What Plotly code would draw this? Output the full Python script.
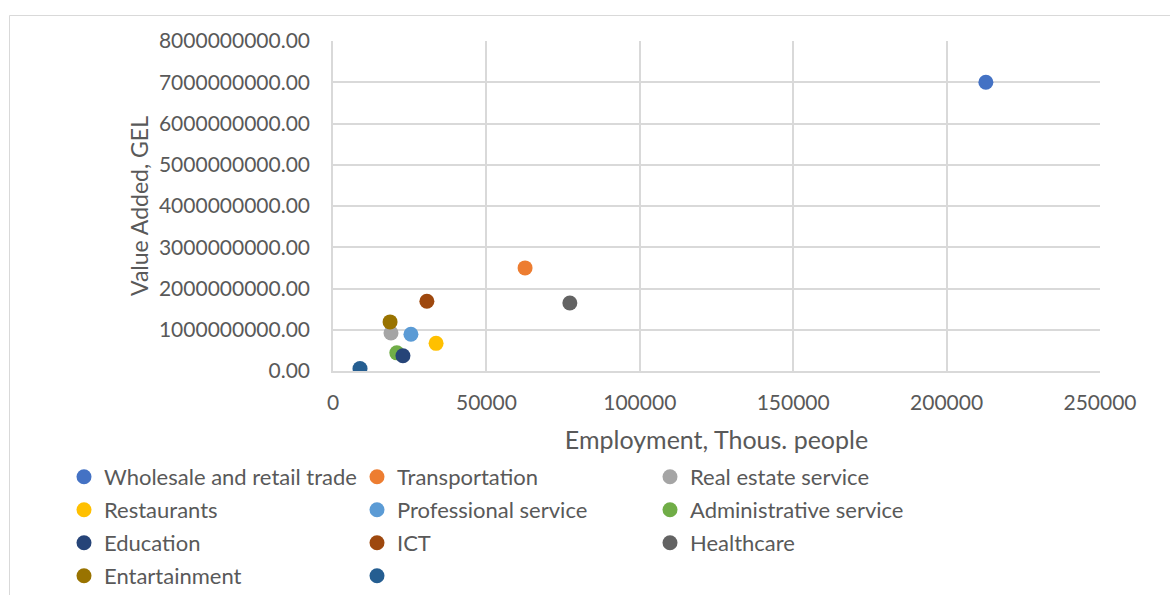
import plotly.graph_objects as go

names = ["Wholesale and retail trade", "Transportation", "Real estate service",
         "Restaurants", "Professional service", "Administrative service",
         "Education", "ICT", "Healthcare", "Entartainment", " "]
employment = [212800, 62600, 18900, 33600, 25400, 20800, 22800, 30600, 77200, 18600, 8800]
value_added = [7.0e9, 2.50e9, 0.92e9, 0.67e9, 0.89e9, 0.44e9, 0.37e9, 1.69e9, 1.65e9, 1.19e9, 0.06e9]
colors = ["#4472C4", "#ED7D31", "#A5A5A5", "#FFC000", "#5B9BD5", "#70AD47",
          "#264478", "#9E480E", "#636363", "#997300", "#255E91"]

x_ticks = [0, 50000, 100000, 150000, 200000, 250000]
y_ticks = [i * 1e9 for i in range(9)]

FONT = "Lato"
TXT = "#595959"
GRID = "#D9D9D9"

W, H = 1170, 595
ml, mr, mt, mb = 333, 70, 41, 224
pw, ph = W - ml - mr, H - mt - mb

def px_x(p):
    return (p - ml) / pw

def px_y(p):
    return (H - mb - p) / ph

fig = go.Figure()
legend_ids = ["legend", "legend2", "legend3", "legend4"]
for i, (n, xv, yv, c) in enumerate(zip(names, employment, value_added, colors)):
    fig.add_trace(go.Scatter(
        x=[xv], y=[yv], mode="markers", name=n,
        marker=dict(color=c, size=15),
        legend=legend_ids[i // 3],
    ))

leg_rows_y = [477, 510, 543, 576]
leg_common = dict(orientation="h", xanchor="left", yanchor="middle",
                  entrywidth=248, entrywidthmode="pixels",
                  font=dict(family=FONT, size=22, color=TXT),
                  bgcolor="rgba(0,0,0,0)", borderwidth=0,
                  itemclick=False, itemdoubleclick=False)
legends = {}
for k, lid in enumerate(legend_ids):
    legends[lid] = dict(leg_common, x=px_x(64), y=px_y(leg_rows_y[k]))

fig.update_layout(
    width=W, height=H,
    margin=dict(l=ml, r=mr, t=mt, b=mb, autoexpand=False),
    paper_bgcolor="white", plot_bgcolor="white",
    font=dict(family=FONT, size=21, color=TXT),
    showlegend=True,
    xaxis=dict(range=[0, 250000], tickvals=x_ticks, ticktext=[str(v) for v in x_ticks],
               showgrid=True, gridcolor=GRID, gridwidth=1.5, zeroline=False,
               showline=True, linecolor=GRID, linewidth=1.5,
               ticks="", ticklabelstandoff=12,
               tickfont=dict(family=FONT, size=21, color=TXT),
               title=dict(text="Employment, Thous. people", standoff=19,
                          font=dict(family=FONT, size=25, color=TXT))),
    yaxis=dict(range=[0, 8e9], tickvals=y_ticks, ticktext=[f"{v:.2f}" for v in y_ticks],
               showgrid=True, gridcolor=GRID, gridwidth=1.5, zeroline=False,
               showline=True, linecolor=GRID, linewidth=1.5,
               ticks="", ticklabelstandoff=17,
               tickfont=dict(family=FONT, size=21, color=TXT),
               title=dict(text="Value Added, GEL", standoff=4,
                          font=dict(family=FONT, size=23, color=TXT))),
    shapes=[dict(type="rect", xref="paper", yref="paper",
                 x0=px_x(9.5), x1=px_x(1175), y0=px_y(600), y1=px_y(15.5),
                 line=dict(color=GRID, width=1), fillcolor="rgba(0,0,0,0)", layer="below")],
    **legends,
)

fig.write_html("out.html")
